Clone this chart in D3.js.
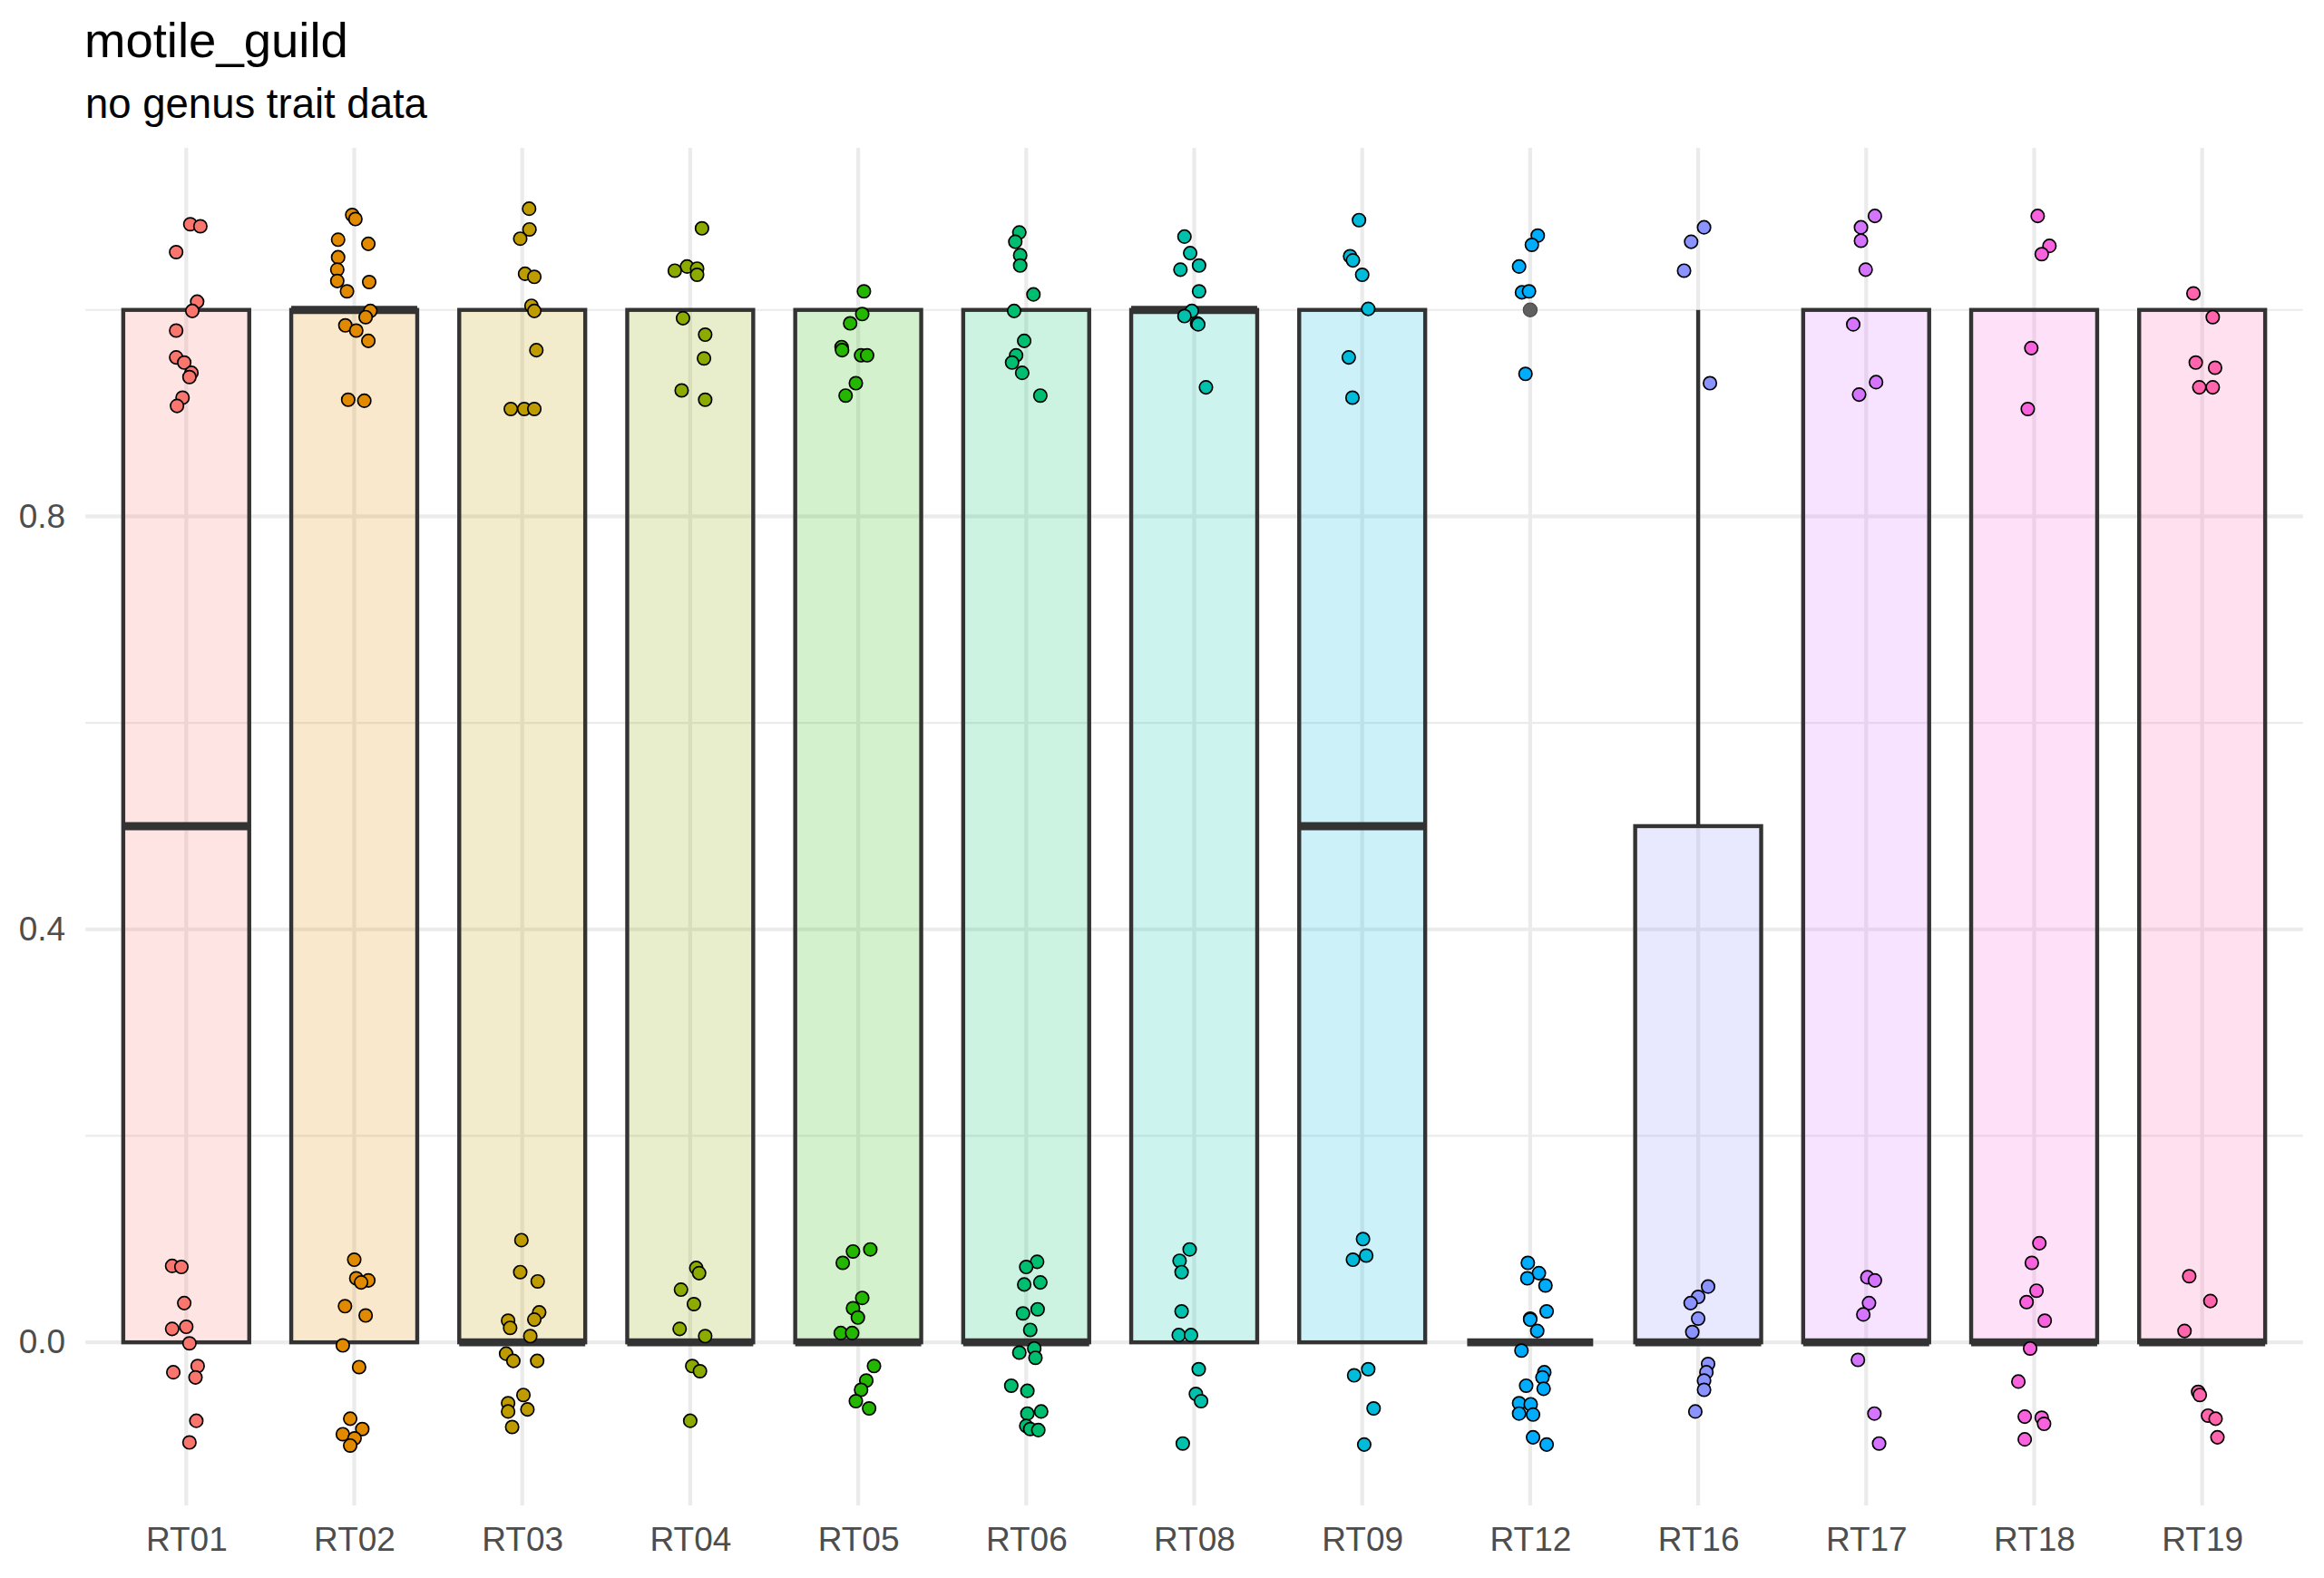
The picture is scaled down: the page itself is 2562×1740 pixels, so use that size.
<!DOCTYPE html>
<html>
<head>
<meta charset="utf-8">
<script src="https://cdn.jsdelivr.net/npm/d3@7"></script>
<style>
  html, body { margin: 0; padding: 0; background: #ffffff; }
  svg { display: block; }
</style>
</head>
<body>
<script>
// ---------------- DATA ----------------
const categories = ["RT01","RT02","RT03","RT04","RT05","RT06","RT08","RT09","RT12","RT16","RT17","RT18","RT19"];
const palette = ["#F8766D","#E18A00","#BE9C00","#8CAB00","#24B700","#00BE70","#00C1AB","#00BBDA","#00ACFC","#8B93FF","#D575FE","#F962DD","#FF65AC"];

// box statistics per category
const boxLower  = [0,0,0,0,0,0,0,0,0,0,0,0,0];
const boxMedian = [0.5,1,0,0,0,0,1,0.5,0,0,0,0,0];
const boxUpper  = [1,1,1,1,1,1,1,1,0,0.5,1,1,1];
const whiskerHigh = [1,1,1,1,1,1,1,1,0,1,1,1,1];
const whiskerLow  = [0,0,0,0,0,0,0,0,0,0,0,0,0];
const outliers = [[], [], [], [], [], [], [], [], [1], [], [], [], []];

const yMajorTicks = [0, 0.4, 0.8];
const yMinorTicks = [0.2, 0.6, 1.0];

// jittered points: [horizontal jitter (category units), jittered value]
const ptsRT01 = [[0.024,1.083],[0.084,1.081],[-0.060,1.056],[0.065,1.008],[0.036,0.999],[-0.060,0.980],[-0.060,0.954],[-0.012,0.949],[0.031,0.939],[0.019,0.935],[-0.022,0.915],[-0.055,0.907],
  [-0.084,0.074],[-0.029,0.073],[-0.012,0.038],[-0.084,0.013],[0.0,0.015],[0.019,-0.001],[0.068,-0.023],[-0.077,-0.029],[0.055,-0.034],[0.060,-0.076],[0.019,-0.097]];
const ptsRT02 = [[-0.012,1.092],[0.007,1.088],[-0.096,1.068],[0.084,1.064],[-0.096,1.051],[-0.101,1.039],[-0.101,1.028],[0.089,1.027],[-0.043,1.018],[0.096,0.999],[0.068,0.993],[-0.053,0.985],[0.012,0.980],[0.084,0.970],[-0.036,0.913],[0.060,0.912],
  [0.0,0.080],[0.012,0.062],[0.084,0.060],[0.041,0.058],[-0.055,0.035],[0.068,0.026],[-0.068,-0.003],[0.029,-0.024],[-0.024,-0.074],[0.048,-0.084],[-0.068,-0.089],[0.002,-0.093],[-0.024,-0.100]];
const ptsRT03 = [[0.041,1.098],[0.043,1.078],[-0.012,1.069],[0.017,1.035],[0.072,1.032],[0.055,1.004],[0.072,0.999],[0.084,0.961],[-0.068,0.904],[0.012,0.904],[0.072,0.904],
  [-0.005,0.099],[-0.012,0.068],[0.092,0.059],[-0.084,0.021],[-0.072,0.014],[0.101,0.029],[0.072,0.022],[0.048,0.006],[-0.096,-0.011],[-0.053,-0.018],[0.089,-0.018],[0.007,-0.051],[-0.084,-0.059],[-0.084,-0.067],[0.031,-0.065],[-0.060,-0.082]];
const ptsRT04 = [[0.070,1.079],[-0.019,1.042],[0.041,1.040],[0.041,1.034],[-0.092,1.038],[-0.043,0.992],[0.089,0.976],[0.082,0.953],[-0.051,0.922],[0.089,0.913],
  [0.036,0.072],[0.053,0.067],[-0.055,0.051],[0.022,0.037],[-0.063,0.013],[0.089,0.006],[0.012,-0.023],[0.058,-0.028],[0.0,-0.076]];
const ptsRT05 = [[0.034,1.018],[0.024,0.996],[-0.048,0.987],[-0.099,0.964],[-0.096,0.961],[0.017,0.956],[0.053,0.956],[-0.014,0.929],[-0.075,0.917],
  [0.072,0.090],[-0.031,0.088],[-0.092,0.077],[0.024,0.043],[-0.031,0.033],[-0.002,0.024],[-0.104,0.009],[-0.036,0.009],[0.094,-0.023],[0.048,-0.037],[0.017,-0.046],[-0.014,-0.057],[0.065,-0.064]];
const ptsRT06 = [[-0.041,1.075],[-0.065,1.066],[-0.036,1.053],[-0.036,1.043],[0.043,1.015],[-0.072,0.999],[-0.012,0.970],[-0.060,0.956],[-0.084,0.949],[-0.024,0.939],[0.084,0.917],
  [0.065,0.078],[0.0,0.073],[-0.012,0.056],[0.084,0.058],[-0.019,0.028],[0.068,0.032],[0.024,0.012],[0.048,-0.006],[-0.041,-0.010],[0.055,-0.015],[-0.089,-0.042],[0.007,-0.047],[0.089,-0.067],[0.007,-0.069],[0.0,-0.081],[0.024,-0.084],[0.072,-0.085]];
const ptsRT08 = [[-0.058,1.071],[-0.024,1.055],[-0.082,1.039],[0.029,1.043],[0.029,1.018],[-0.014,0.999],[-0.058,0.994],[0.017,0.987],[0.024,0.986],[0.070,0.925],
  [-0.027,0.090],[-0.087,0.079],[-0.075,0.068],[-0.075,0.030],[-0.092,0.007],[-0.019,0.007],[0.027,-0.026],[0.010,-0.050],[0.041,-0.057],[-0.068,-0.098]];
const ptsRT09 = [[-0.019,1.087],[-0.072,1.052],[-0.055,1.048],[0.0,1.034],[0.036,1.001],[-0.080,0.954],[-0.058,0.915],
  [0.005,0.100],[0.024,0.084],[-0.055,0.080],[0.036,-0.026],[-0.048,-0.032],[0.068,-0.064],[0.012,-0.099]];
const ptsRT12 = [[0.045,1.072],[0.010,1.063],[-0.066,1.042],[-0.049,1.017],[-0.007,1.018],[-0.028,0.938],
  [-0.014,0.077],[0.052,0.067],[-0.017,0.062],[0.091,0.055],[0.098,0.030],[0.0,0.023],[0.0,0.022],[0.042,0.011],[-0.052,-0.008],[0.084,-0.029],[0.073,-0.034],[-0.024,-0.042],[0.080,-0.045],[-0.066,-0.059],[0.003,-0.060],[-0.066,-0.069],[0.017,-0.070],[0.017,-0.092],[0.098,-0.099]];
const ptsRT16 = [[0.035,1.080],[-0.042,1.066],[-0.084,1.038],[0.070,0.929],
  [0.059,0.054],[0.0,0.044],[-0.045,0.038],[0.0,0.023],[-0.035,0.010],[0.059,-0.021],[0.049,-0.029],[0.035,-0.037],[0.035,-0.046],[-0.017,-0.067]];
const ptsRT17 = [[0.052,1.091],[-0.031,1.080],[-0.031,1.067],[-0.003,1.039],[-0.077,0.986],[0.059,0.930],[-0.042,0.918],
  [0.007,0.063],[0.052,0.060],[0.017,0.038],[-0.017,0.027],[-0.049,-0.017],[0.049,-0.069],[0.077,-0.098]];
const ptsRT18 = [[0.021,1.091],[0.091,1.062],[0.045,1.054],[-0.017,0.963],[-0.038,0.904],
  [0.031,0.096],[-0.014,0.077],[0.014,0.050],[-0.045,0.039],[0.063,0.021],[-0.024,-0.006],[-0.094,-0.038],[-0.056,-0.072],[0.045,-0.073],[0.059,-0.079],[-0.056,-0.094]];
const ptsRT19 = [[-0.052,1.016],[0.063,0.993],[-0.038,0.949],[0.077,0.944],[-0.017,0.925],[0.063,0.925],
  [-0.077,0.064],[0.049,0.040],[-0.105,0.011],[-0.024,-0.048],[-0.014,-0.051],[0.035,-0.071],[0.080,-0.074],[0.091,-0.092]];
const pointSets = [ptsRT01, ptsRT02, ptsRT03, ptsRT04, ptsRT05, ptsRT06, ptsRT08, ptsRT09, ptsRT12, ptsRT16, ptsRT17, ptsRT18, ptsRT19];

const titleText = "motile_guild";
const subtitleText = "no genus trait data";

// ---------------- LAYOUT ----------------
const W = 2562, H = 1740;
const panel = { left: 94.2, right: 2538.8, top: 163, bottom: 1660 };
const FONT = "'Liberation Sans', Arial, Helvetica, sans-serif";

const svg = d3.select("body").append("svg")
  .attr("width", W).attr("height", H)
  .style("background", "#ffffff");

const x = d3.scalePoint().domain(categories).range([panel.left, panel.right]).padding(0.6);
const step = x.step();
const y = d3.scaleLinear().domain([-0.158, 1.157]).range([panel.bottom, panel.top]);

// grid
const grid = svg.append("g");
grid.selectAll("line.minor").data(yMinorTicks).join("line")
  .attr("x1", panel.left).attr("x2", panel.right)
  .attr("y1", d => y(d)).attr("y2", d => y(d))
  .attr("stroke", "#EBEBEB").attr("stroke-width", 2.2);
grid.selectAll("line.major").data(yMajorTicks).join("line")
  .attr("x1", panel.left).attr("x2", panel.right)
  .attr("y1", d => y(d)).attr("y2", d => y(d))
  .attr("stroke", "#EBEBEB").attr("stroke-width", 4.2);
grid.selectAll("line.xmajor").data(categories).join("line")
  .attr("x1", d => x(d)).attr("x2", d => x(d))
  .attr("y1", panel.top).attr("y2", panel.bottom)
  .attr("stroke", "#EBEBEB").attr("stroke-width", 4.2);

// boxplots
const boxW = step * 0.75;
const LINE = "#333333";
const boxes = svg.append("g");
categories.forEach((c, i) => {
  const cx = x(c);
  const g = boxes.append("g");
  g.append("line").attr("x1", cx).attr("x2", cx)
    .attr("y1", y(boxUpper[i])).attr("y2", y(whiskerHigh[i]))
    .attr("stroke", LINE).attr("stroke-width", 4.4);
  g.append("line").attr("x1", cx).attr("x2", cx)
    .attr("y1", y(boxLower[i])).attr("y2", y(whiskerLow[i]))
    .attr("stroke", LINE).attr("stroke-width", 4.4);
  const col = d3.color(palette[i]); col.opacity = 0.2;
  g.append("rect")
    .attr("x", cx - boxW / 2).attr("width", boxW)
    .attr("y", y(boxUpper[i])).attr("height", Math.max(0, y(boxLower[i]) - y(boxUpper[i])))
    .attr("fill", col.formatRgb())
    .attr("stroke", LINE).attr("stroke-width", 4.4).attr("stroke-linejoin", "miter");
  g.append("line")
    .attr("x1", cx - boxW / 2).attr("x2", cx + boxW / 2)
    .attr("y1", y(boxMedian[i])).attr("y2", y(boxMedian[i]))
    .attr("stroke", LINE).attr("stroke-width", 8.9);
  g.selectAll("circle").data(outliers[i]).join("circle")
    .attr("cx", cx).attr("cy", d => y(d)).attr("r", 7.6)
    .attr("fill", "#5f5f5f").attr("stroke", "#4a4a4a").attr("stroke-width", 1.2);
});

// jittered points
const pts = svg.append("g");
categories.forEach((c, i) => {
  pts.append("g").selectAll("circle").data(pointSets[i]).join("circle")
    .attr("cx", d => x(c) + d[0] * step)
    .attr("cy", d => y(d[1]))
    .attr("r", 7.2)
    .attr("fill", palette[i])
    .attr("stroke", "#000000").attr("stroke-width", 1.7);
});

// axes
const yAxis = svg.append("g").attr("transform", `translate(${panel.left},0)`)
  .call(d3.axisLeft(y).tickValues(yMajorTicks).tickFormat(d3.format(".1f")).tickSize(0).tickPadding(22));
yAxis.select(".domain").remove();
yAxis.selectAll("text").attr("font-family", FONT).attr("font-size", 37).attr("fill", "#4D4D4D");

const xAxis = svg.append("g").attr("transform", `translate(0,${panel.bottom})`)
  .call(d3.axisBottom(x).tickSize(0).tickPadding(24));
xAxis.select(".domain").remove();
xAxis.selectAll("text").attr("font-family", FONT).attr("font-size", 37).attr("fill", "#4D4D4D");

// titles
svg.append("text").attr("x", 93).attr("y", 63)
  .attr("font-family", FONT).attr("font-size", 54.5).attr("fill", "#000000")
  .text(titleText);
svg.append("text").attr("x", 94).attr("y", 130)
  .attr("font-family", FONT).attr("font-size", 45.5).attr("fill", "#000000")
  .text(subtitleText);
</script>
</body>
</html>
